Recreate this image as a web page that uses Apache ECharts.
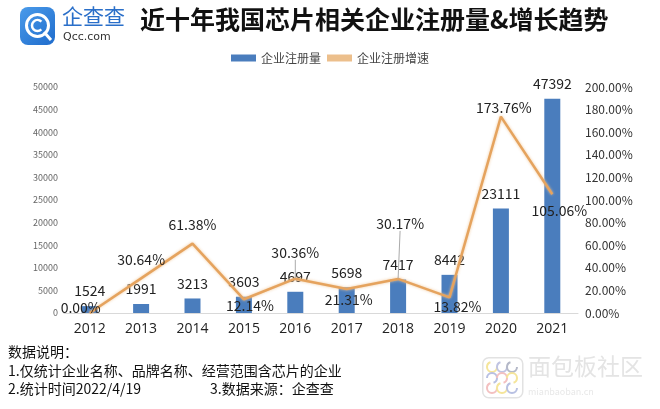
<!DOCTYPE html>
<html><head><meta charset="utf-8">
<script src="https://cdn.jsdelivr.net/npm/echarts@6/dist/echarts.min.js"></script>
<style>html,body{margin:0;padding:0;background:#fff}#c{width:660px;height:409px}</style>
</head><body><div id="c"></div>
<script>
const years = ['2012','2013','2014','2015','2016','2017','2018','2019','2020','2021'];
const registrations = [1524,1991,3213,3603,4697,5698,7417,8442,23111,47392];
const growthRates = [0.00,30.64,61.38,12.14,30.36,21.31,30.17,13.82,173.76,105.06];
const title = '近十年我国芯片相关企业注册量&增长趋势';
const notes = ['数据说明：','1.仅统计企业名称、品牌名称、经营范围含芯片的企业','2.统计时间2022/4/19','3.数据来源：企查查'];

// label placement tweaks (dx, dy) for growth labels
const pctLabelShift = [[-9,-5],[0,-19],[0,-19],[6,6],[0,-26],[2,11],[2,-55],[8,9],[3,-9],[7,16]];
const leader = [false,false,false,false,true,false,true,false,false,false];

const FONT = '"Noto Sans CJK SC","Noto Sans",sans-serif';
const chart = echarts.init(document.getElementById('c'));
chart.setOption({
  backgroundColor:'#fff',
  textStyle:{fontFamily:FONT},
  animation:false,
  legend:{
    top:47, left:'center', itemGap:6, itemWidth:25, itemHeight:7,
    textStyle:{fontSize:12,color:'#444',fontFamily:FONT},
    data:[{name:'企业注册量',icon:'rect'},{name:'企业注册增速',icon:'rect',itemStyle:{color:'#ecbf8c'}}]
  },
  grid:{left:64,right:82,top:87,bottom:96},
  xAxis:{
    type:'category', data:years,
    axisLine:{lineStyle:{color:'#d9d9d9'}}, axisTick:{show:false},
    axisLabel:{fontSize:14,color:'#222',margin:9,fontFamily:'"Open Sans",sans-serif'}
  },
  yAxis:[
    {type:'value',min:0,max:50000,interval:5000,
     splitLine:{show:false},axisLine:{show:false},axisTick:{show:false},
     axisLabel:{fontSize:9,color:'#666',margin:6,formatter:v=>String(v)}},
    {type:'value',min:0,max:200,interval:20,
     splitLine:{show:false},axisLine:{show:false},axisTick:{show:false},
     axisLabel:{fontSize:12,color:'#333',margin:7,formatter:v=>v.toFixed(2)+'%'}}
  ],
  series:[
    {name:'企业注册量',type:'bar',data:registrations,barWidth:16,
     itemStyle:{color:'#4a7dbd'},
     label:{show:true,position:'top',distance:8,fontSize:14,color:'#222'}},
    {name:'企业注册增速',type:'line',yAxisIndex:1,
     data:growthRates.map((v,i)=>({value:v,labelLine:{show:leader[i]}})),
     symbol:'circle',symbolSize:1,itemStyle:{color:'rgba(0,0,0,0)'},
     lineStyle:{color:'#e5a35e',width:2.5,shadowColor:'rgba(240,195,145,0.9)',shadowBlur:3},
     label:{show:true,position:'inside',fontSize:14,color:'#222',formatter:p=>p.value.toFixed(2)+'%'},
     labelLine:{show:false,lineStyle:{color:'#aaa',width:1}},
     labelLayout:p=>({dx:pctLabelShift[p.dataIndex][0],dy:pctLabelShift[p.dataIndex][1]}),
     z:3}
  ],
  graphic:[
    {type:'rect',left:20,top:7,shape:{width:35,height:38,r:8},
     style:{fill:new echarts.graphic.LinearGradient(0,0,1,1,[{offset:0,color:'#4a9bea'},{offset:1,color:'#1f6ccc'}])}},
    {type:'circle',shape:{cx:37.5,cy:25.5,r:11},style:{fill:'none',stroke:'#fff',lineWidth:3}},
    {type:'arc',shape:{cx:37.5,cy:25.5,r:5.5,startAngle:0.8,endAngle:5.5},style:{fill:'none',stroke:'#fff',lineWidth:2.5}},
    {type:'line',shape:{x1:44,y1:32,x2:51,y2:40},style:{stroke:'#fff',lineWidth:3}},
    {type:'text',left:62,top:6,style:{text:'企查查',fontSize:21,fill:'#2a6fc9',fontFamily:FONT}},
    {type:'text',left:63,top:32,style:{text:'Qcc.com',fontSize:11,fill:'#333',fontFamily:'"DejaVu Sans",sans-serif',letterSpacing:2}},
    {type:'text',left:140,top:7,style:{text:title,fontSize:25,fontWeight:'bold',fill:'#111',fontFamily:FONT,letterSpacing:0.5}},
    {type:'text',left:8,top:345,style:{text:notes[0],fontSize:14,fill:'#111',fontFamily:FONT}},
    {type:'text',left:8,top:364,style:{text:notes[1],fontSize:14,fill:'#111',fontFamily:FONT}},
    {type:'text',left:8,top:382,style:{text:notes[2],fontSize:14,fill:'#111',fontFamily:FONT}},
    {type:'text',left:210,top:382,style:{text:notes[3],fontSize:14,fill:'#111',fontFamily:FONT}},
    // watermark
    {type:'rect',left:482,top:357,shape:{width:40,height:40,r:6},style:{fill:'#fff',stroke:'#e2e2e2',lineWidth:1.5}},
    {type:'arc',shape:{cx:492,cy:367,r:5,startAngle:0,endAngle:Math.PI*1.4},style:{fill:'none',stroke:'#f5e59a',lineWidth:2}},
    {type:'arc',shape:{cx:502,cy:367,r:5,startAngle:0,endAngle:Math.PI*1.4},style:{fill:'none',stroke:'#c0c4e2',lineWidth:2}},
    {type:'arc',shape:{cx:512,cy:367,r:5,startAngle:0,endAngle:Math.PI*1.4},style:{fill:'none',stroke:'#b4b8c8',lineWidth:2}},
    {type:'arc',shape:{cx:492,cy:378,r:5,startAngle:Math.PI,endAngle:Math.PI*2.4},style:{fill:'none',stroke:'#b8c0e2',lineWidth:2}},
    {type:'arc',shape:{cx:502,cy:378,r:5,startAngle:Math.PI,endAngle:Math.PI*2.4},style:{fill:'none',stroke:'#f3c0c0',lineWidth:2}},
    {type:'arc',shape:{cx:512,cy:378,r:5,startAngle:Math.PI,endAngle:Math.PI*2.4},style:{fill:'none',stroke:'#f5e59a',lineWidth:2}},
    {type:'arc',shape:{cx:492,cy:388,r:5,startAngle:0,endAngle:Math.PI*1.4},style:{fill:'none',stroke:'#f3c0c0',lineWidth:2}},
    {type:'arc',shape:{cx:502,cy:388,r:5,startAngle:0,endAngle:Math.PI*1.4},style:{fill:'none',stroke:'#f5e59a',lineWidth:2}},
    {type:'arc',shape:{cx:512,cy:388,r:5,startAngle:0,endAngle:Math.PI*1.4},style:{fill:'none',stroke:'#b8c0e2',lineWidth:2}},
    {type:'text',left:528,top:355,style:{text:'面包板社区',fontSize:23,fill:'#e4e4e4',fontFamily:FONT}},
    {type:'text',left:528,top:387,style:{text:'mianbaoban.cn',fontSize:9,fill:'#e8e8e8',fontFamily:FONT,letterSpacing:3}}
  ]
});
</script></body></html>
